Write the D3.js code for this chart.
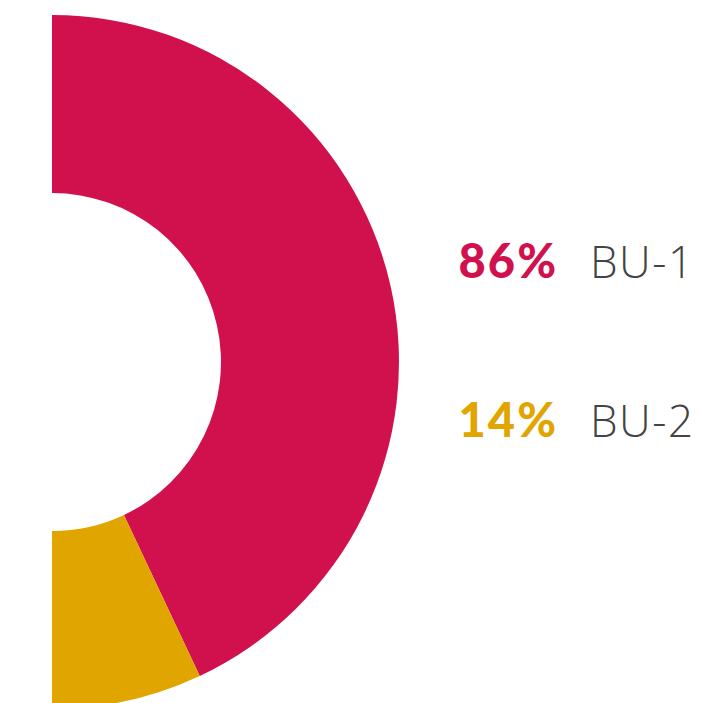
<!DOCTYPE html>
<html>
<head>
<meta charset="utf-8">
<script src="https://cdn.jsdelivr.net/npm/d3@7"></script>
<style>
  html, body { margin: 0; padding: 0; background: #fff; }
  svg { display: block; }
</style>
</head>
<body>
<svg id="chart" width="702" height="703"></svg>
<script>
// Business-unit share of the total
const categories = ["BU-1", "BU-2"];
const shares = [86, 14];
const colors = ["#D1114D", "#E1A500"];

const svg = d3.select("#chart");
const cx = 52, cy = 362;
const outerR = 347, innerR = 169;

// Right half-donut: angles run from the top (0) clockwise to the bottom (π)
const pie = d3.pie()
  .sort(null)
  .value(d => d)
  .startAngle(0)
  .endAngle(Math.PI);

const arc = d3.arc().innerRadius(innerR).outerRadius(outerR);

const g = svg.append("g").attr("transform", `translate(${cx},${cy})`);
g.selectAll("path")
  .data(pie(shares))
  .join("path")
  .attr("d", arc)
  .attr("fill", (d, i) => colors[i]);

// Legend: percentage + unit name
const legendY = d3.scalePoint().domain(categories).range([278, 437]);

const legend = svg.append("g");
categories.forEach((c, i) => {
  legend.append("text")
    .attr("x", 558)
    .attr("y", legendY(c))
    .attr("text-anchor", "end")
    .attr("font-family", "Lato, 'Open Sans', sans-serif")
    .attr("font-weight", 900)
    .attr("font-size", 47)
    .attr("letter-spacing", 2)
    .attr("fill", colors[i])
    .text(shares[i] + "%");
  legend.append("text")
    .attr("x", 590)
    .attr("y", legendY(c))
    .attr("font-family", "'Open Sans', Lato, sans-serif")
    .attr("font-weight", 300)
    .attr("font-size", 44)
    .attr("letter-spacing", 1.5)
    .attr("fill", "#444")
    .text(c);
});
</script>
</body>
</html>
